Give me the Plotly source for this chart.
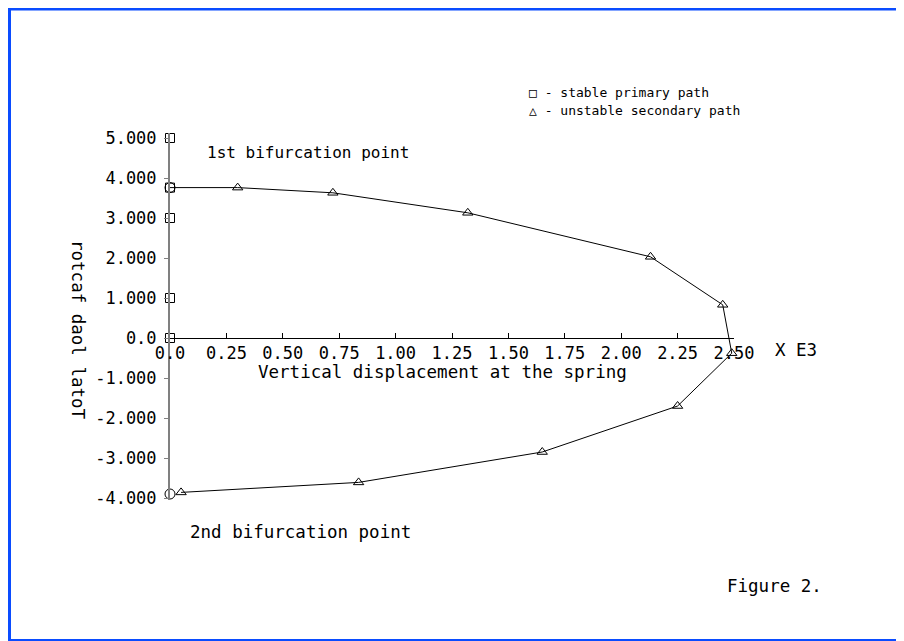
import plotly.graph_objects as go

# stable primary path (squares on the load axis)
primary_x = [0.0, 0.0, 0.0, 0.0, 0.0]
primary_y = [0.0, 1.0, 3.0, 3.76, 5.0]

# unstable secondary path (triangles), displacement in units of E3
secondary_x = [0.30, 0.722, 1.32, 2.13, 2.45, 2.49, 2.25, 1.65, 0.836, 0.049]
secondary_y = [3.76, 3.63, 3.13, 2.03, 0.83, -0.38, -1.70, -2.85, -3.61, -3.86]

# bifurcation points (circles)
bif_x = [0.0, 0.0]
bif_y = [3.76, -3.90]

x_ticks = [0.0, 0.25, 0.5, 0.75, 1.0, 1.25, 1.5, 1.75, 2.0, 2.25, 2.5]
x_ticktext = ['0.0', '0.25', '0.50', '0.75', '1.00', '1.25', '1.50', '1.75', '2.00', '2.25', '2.50']
y_ticks = [5, 4, 3, 2, 1, 0, -1, -2, -3, -4]
y_ticktext = ['5.000', '4.000', '3.000', '2.000', '1.000', '0.0', '-1.000', '-2.000', '-3.000', '-4.000']

FONT = 'DejaVu Sans Mono'
# page is drawn with the browser's 8px body margin
W, H = 896, 633
L, R, T, B = 162, 170, 125, 141
YR = [-4.05, 5.125]
PW, PH = W - L - R, H - T - B

def px(x):
    # page pixel -> paper fraction
    return (x - 8 - L) / PW

def py(y):
    return (H - B - (y - 8)) / PH

fig = go.Figure()

# path line from 1st bifurcation point through secondary path
fig.add_trace(go.Scatter(x=[bif_x[0]] + secondary_x, y=[bif_y[0]] + secondary_y,
                         mode='lines', line=dict(color='black', width=1),
                         showlegend=False, cliponaxis=False, hoverinfo='skip'))
fig.add_trace(go.Scatter(x=primary_x, y=primary_y, mode='markers',
                         name='stable primary path', cliponaxis=False, showlegend=False,
                         marker=dict(symbol='square-open', size=9, color='black',
                                     line=dict(width=1))))
fig.add_trace(go.Scatter(x=secondary_x, y=secondary_y, mode='markers',
                         name='unstable secondary path', cliponaxis=False, showlegend=False,
                         marker=dict(symbol='triangle-up-open', size=9, color='black',
                                     line=dict(width=1))))
fig.add_trace(go.Scatter(x=bif_x, y=bif_y, mode='markers', showlegend=False,
                         cliponaxis=False,
                         marker=dict(symbol='circle-open', size=10, color='black',
                                     line=dict(width=1))))

fig.update_layout(
    width=W, height=H,
    margin=dict(l=L, r=R, t=T, b=B),
    paper_bgcolor='white', plot_bgcolor='white',
    font=dict(family=FONT, size=17, color='black'),
    showlegend=False,
)

fig.update_xaxes(range=[0, 2.5], tickvals=x_ticks, ticktext=x_ticktext,
                 anchor='free', position=-YR[0] / (YR[1] - YR[0]), side='bottom',
                 showline=True, linecolor='black', linewidth=1,
                 ticks='inside', ticklen=5, tickcolor='black',
                 showgrid=False, zeroline=False,
                 tickfont=dict(family=FONT, size=17))
fig.update_yaxes(range=YR, tickvals=y_ticks, ticktext=y_ticktext,
                 showline=True, linecolor='#808080', linewidth=2,
                 ticks='outside', ticklen=4, tickcolor='#808080',
                 ticklabelstandoff=4,
                 showgrid=False, zeroline=False,
                 tickfont=dict(family=FONT, size=17))

texts = [
    ('1st bifurcation point', 205, 152, 'left', 0, 16),
    ('2nd bifurcation point', 188, 532, 'left', 0, 17.5),
    ('Vertical displacement at the spring', 442, 372, 'center', 0, 17.5),
    ('X E3', 773, 350, 'left', 0, 17.5),
    ('Figure 2.', 725, 586, 'left', 0, 17.5),
    ('rotcaf daol latoT', 78, 330, 'center', 90, 17.5),
    ('\u25a1 - stable primary path', 527, 92, 'left', 0, 13),
    ('\u25b3 - unstable secondary path', 527, 110, 'left', 0, 13),
]
for txt, x, y, anchor, ang, size in texts:
    fig.add_annotation(text=txt, xref='paper', yref='paper', x=px(x), y=py(y),
                       xanchor=anchor, yanchor='middle', showarrow=False,
                       textangle=ang, font=dict(family=FONT, size=size, color='black'))

# blue page frame
BLUE = '#0a4cff'
frame = [((0, 9), (904, 9), 3), ((9, 0), (9, 641), 4),
         ((903, 0), (903, 641), 2), ((0, 640), (904, 640), 2)]
for (x0, y0), (x1, y1), w in frame:
    fig.add_shape(type='line', xref='paper', yref='paper',
                  x0=px(x0), y0=py(y0), x1=px(x1), y1=py(y1),
                  line=dict(color=BLUE, width=w))

fig.write_html('out.html')
